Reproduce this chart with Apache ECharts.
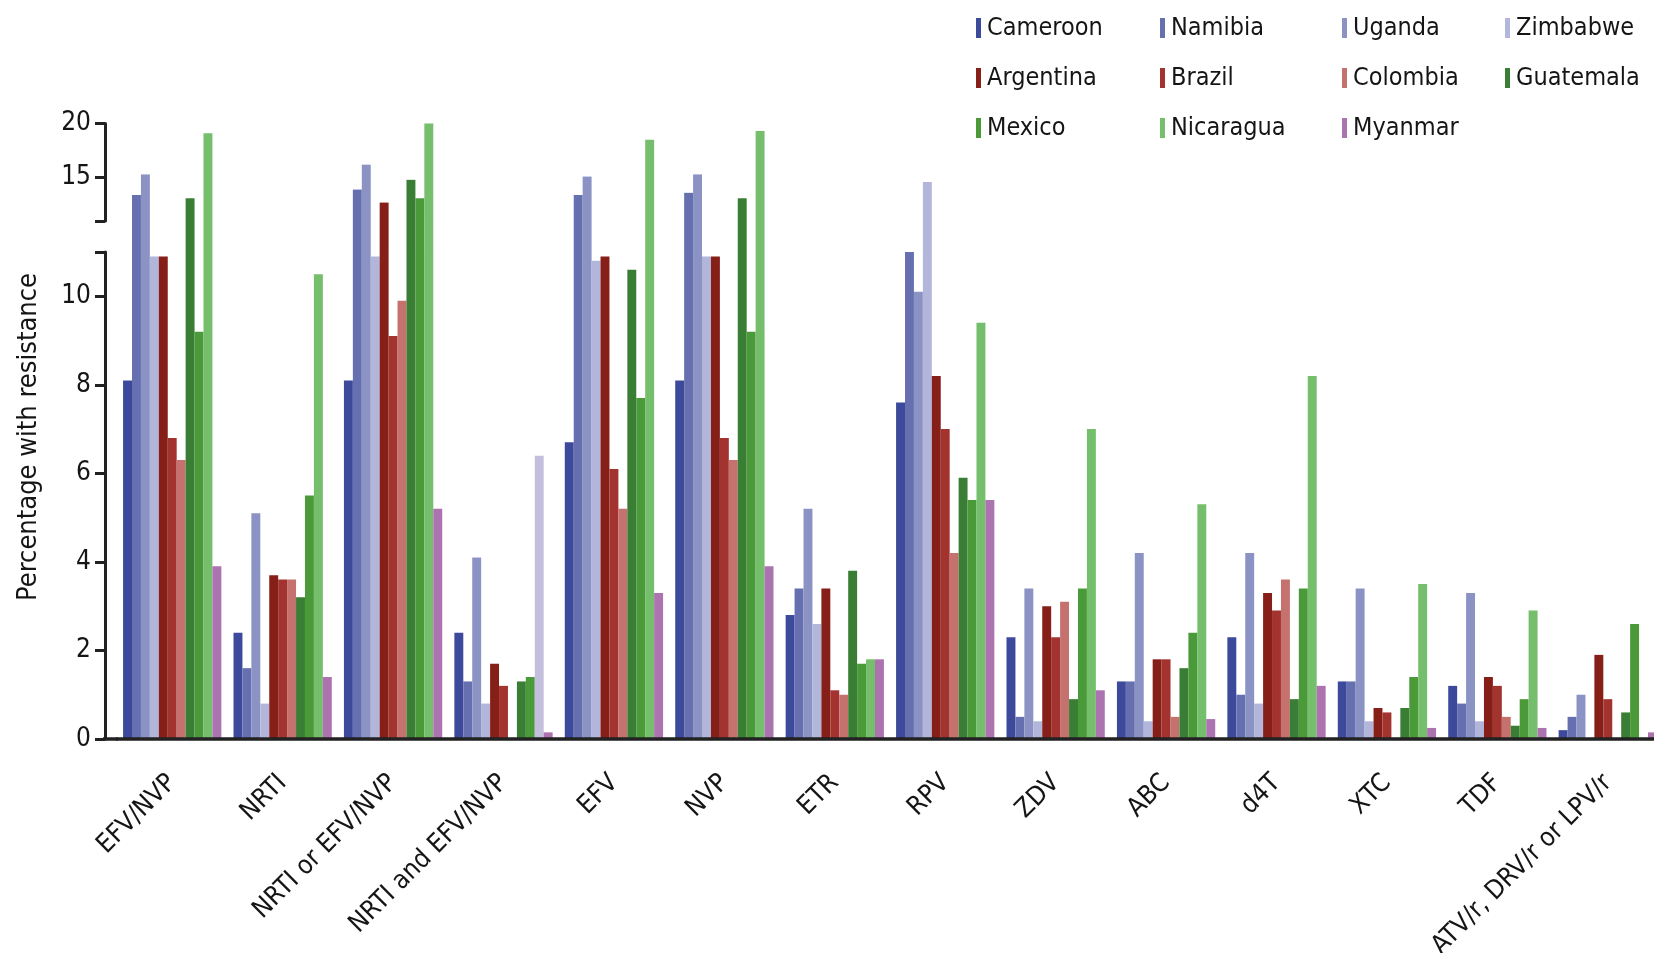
<!DOCTYPE html>
<html>
<head>
<meta charset="utf-8">
<title>Percentage with resistance</title>
<script src="https://cdn.jsdelivr.net/npm/echarts@6/dist/echarts.min.js"></script>
<style>
html, body { margin: 0; padding: 0; background: #fff; }
#chart { width: 1654px; height: 953px; }
</style>
</head>
<body>
<div id="chart"></div>
<script>
// drug classes on the x axis
const drugs = ['EFV/NVP', 'NRTI', 'NRTI or EFV/NVP', 'NRTI and EFV/NVP', 'EFV', 'NVP', 'ETR', 'RPV',
	'ZDV', 'ABC', 'd4T', 'XTC', 'TDF', 'ATV/r, DRV/r or LPV/r'];

// percentage with resistance, one array per country
const cameroon  = [8.1, 2.4, 8.1, 2.4, 6.7, 8.1, 2.8, 7.6, 2.3, 1.3, 2.3, 1.3, 1.2, 0.2];
const namibia   = [13.4, 1.6, 13.9, 1.3, 13.4, 13.6, 3.4, 11.0, 0.5, 1.3, 1.0, 1.3, 0.8, 0.5];
const uganda    = [15.3, 5.1, 16.2, 4.1, 15.1, 15.3, 5.2, 10.1, 3.4, 4.2, 4.2, 3.4, 3.3, 1.0];
const zimbabwe  = [10.9, 0.8, 10.9, 0.8, 10.8, 10.9, 2.6, 14.6, 0.4, 0.4, 0.8, 0.4, 0.4, 0];
const argentina = [10.9, 3.7, 12.7, 1.7, 10.9, 10.9, 3.4, 8.2, 3.0, 1.8, 3.3, 0.7, 1.4, 1.9];
const brazil    = [6.8, 3.6, 9.1, 1.2, 6.1, 6.8, 1.1, 7.0, 2.3, 1.8, 2.9, 0.6, 1.2, 0.9];
const colombia  = [6.3, 3.6, 9.9, 0, 5.2, 6.3, 1.0, 4.2, 3.1, 0.5, 3.6, 0, 0.5, 0];
const guatemala = [13.1, 3.2, 14.8, 1.3, 10.6, 13.1, 3.8, 5.9, 0.9, 1.6, 0.9, 0.7, 0.3, 0.6];
const mexico    = [9.2, 5.5, 13.1, 1.4, 7.7, 9.2, 1.7, 5.4, 3.4, 2.4, 3.4, 1.4, 0.9, 2.6];
const nicaragua = [19.1, 10.5, 20.0, 6.4, 18.5, 19.3, 1.8, 9.4, 7.0, 5.3, 8.2, 3.5, 2.9, 0];
const myanmar   = [3.9, 1.4, 5.2, 0.15, 3.3, 3.9, 1.8, 5.4, 1.1, 0.45, 1.2, 0.25, 0.25, 0.15];

const countries = ['Cameroon', 'Namibia', 'Uganda', 'Zimbabwe', 'Argentina', 'Brazil', 'Colombia',
	'Guatemala', 'Mexico', 'Nicaragua', 'Myanmar'];
const countryValues = [cameroon, namibia, uganda, zimbabwe, argentina, brazil, colombia,
	guatemala, mexico, nicaragua, myanmar];
const colours = ['#3d4a9b', '#6670b1', '#8b93c5', '#b2b6da', '#861f17', '#a3332e', '#c5716d',
	'#3a7e35', '#4a9a3a', '#75be6b', '#ad73b0'];

// y axis is broken: lower part 0-11, upper part 11-20
const lowerTicks = [0, 2, 4, 6, 8, 10];
const upperTicks = [15, 20];
const breakValue = 11;

// legend is laid out in four columns
const legendColumns = [
	['Cameroon', 'Argentina', 'Mexico'],
	['Namibia', 'Brazil', 'Nicaragua'],
	['Uganda', 'Colombia', 'Myanmar'],
	['Zimbabwe', 'Guatemala']
];

// one bar in the source is printed in lavender instead of green
const oddBar = { country: 'Nicaragua', drug: 'NRTI and EFV/NVP', colour: '#c3bfdd' };

const FONT = "'Liberation Sans Narrow', 'DejaVu Sans Condensed', 'Roboto Condensed', sans-serif";
const INK = '#151515';

let app = {
	chart: null,
	option: {}
};

app.init = function () {
	app.chart = echarts.init(document.getElementById('chart'), null, { renderer: 'canvas' });
	app.option = {
		backgroundColor: '#fff',
		animation: false,
		textStyle: { fontFamily: FONT, color: INK },
		legend: app.buildLegend(),
		grid: [
			{ left: 117, width: 1546, top: 252, height: 487, outerBoundsMode: 'none' },   // lower
			{ left: 117, width: 1546, top: 221, height: 31, outerBoundsMode: 'none' },    // gap
			{ left: 117, width: 1546, top: 123.5, height: 97.5, outerBoundsMode: 'none' } // upper
		],
		xAxis: [
			{
				type: 'category', gridIndex: 0, data: drugs, z: 10,
				axisLine: { lineStyle: { color: '#222', width: 3.5 } },
				axisTick: { show: false },
				axisLabel: {
					interval: 0, rotate: 45, margin: 40,
					fontSize: 26, color: INK, fontFamily: FONT
				}
			},
			{ type: 'category', gridIndex: 1, data: drugs, show: false },
			{ type: 'category', gridIndex: 2, data: drugs, show: false }
		],
		yAxis: [
			app.valueAxis(0, 0, breakValue, lowerTicks.concat([breakValue]), lowerTicks, false),
			app.valueAxis(0, 0, breakValue, [breakValue], [], true),
			{ type: 'value', gridIndex: 1, min: breakValue, max: breakValue + 31 / 44.27, show: false },
			app.valueAxis(2, breakValue, 20, [breakValue].concat(upperTicks), upperTicks, false),
			app.valueAxis(2, breakValue, 20, [breakValue], [], true)
		],
		graphic: [
			{
				type: 'text', x: 29, y: 437, rotation: Math.PI / 2,
				style: {
					text: 'Percentage with resistance', fill: INK,
					font: '27px ' + FONT, textAlign: 'center', textVerticalAlign: 'middle'
				}
			},
			{
				// bit of x axis line left of the first category band
				type: 'line', z: 10, shape: { x1: 103, y1: 739, x2: 118, y2: 739 },
				style: { stroke: '#222', lineWidth: 3.5 }
			}
		],
		series: app.buildSeries()
	};
	app.chart.setOption(app.option);
};

// value axis for one part of the broken axis
app.valueAxis = function (gridIndex, min, max, tickValues, labelValues, inside) {
	return {
		type: 'value', gridIndex: gridIndex, min: min, max: max, offset: 12,
		splitLine: { show: false },
		axisLine: { show: !inside, lineStyle: { color: '#222', width: 3 } },
		axisTick: {
			show: true, inside: inside, length: 10, customValues: tickValues,
			lineStyle: { color: '#222', width: 3 }
		},
		axisLabel: {
			show: !inside, customValues: labelValues, margin: 14,
			fontSize: 26, color: INK, fontFamily: FONT
		}
	};
};

app.buildLegend = function () {
	let lefts = [971, 1155, 1337, 1500];
	let list = [];
	for (let i = 0; i < legendColumns.length; i++) {
		list.push({
			data: legendColumns[i],
			orient: 'vertical',
			left: lefts[i], top: 8,
			itemWidth: 5, itemHeight: 20, itemGap: 20,
			icon: 'rect', selectedMode: false,
			textStyle: { fontSize: 25, lineHeight: 30, color: INK, fontFamily: FONT, padding: [0, 0, 0, 1] }
		});
	}
	return list;
};

// same bars in the lower, gap and upper grids, each clipped to its own range
app.buildSeries = function () {
	let parts = [{ x: 0, y: 0 }, { x: 1, y: 2 }, { x: 2, y: 3 }];
	let oddIndex = drugs.indexOf(oddBar.drug);
	let list = [];
	for (let p = 0; p < parts.length; p++) {
		for (let i = 0; i < countries.length; i++) {
			let data = countryValues[i].map(function (v, j) {
				if (countries[i] === oddBar.country && j === oddIndex) {
					return { value: v, itemStyle: { color: oddBar.colour } };
				}
				return v;
			});
			list.push({
				name: countries[i],
				type: 'bar',
				xAxisIndex: parts[p].x,
				yAxisIndex: parts[p].y,
				barGap: '0%',
				barCategoryGap: '11%',
				clip: true,
				itemStyle: { color: colours[i] },
				data: data
			});
		}
	}
	return list;
};

app.init();
</script>
</body>
</html>
